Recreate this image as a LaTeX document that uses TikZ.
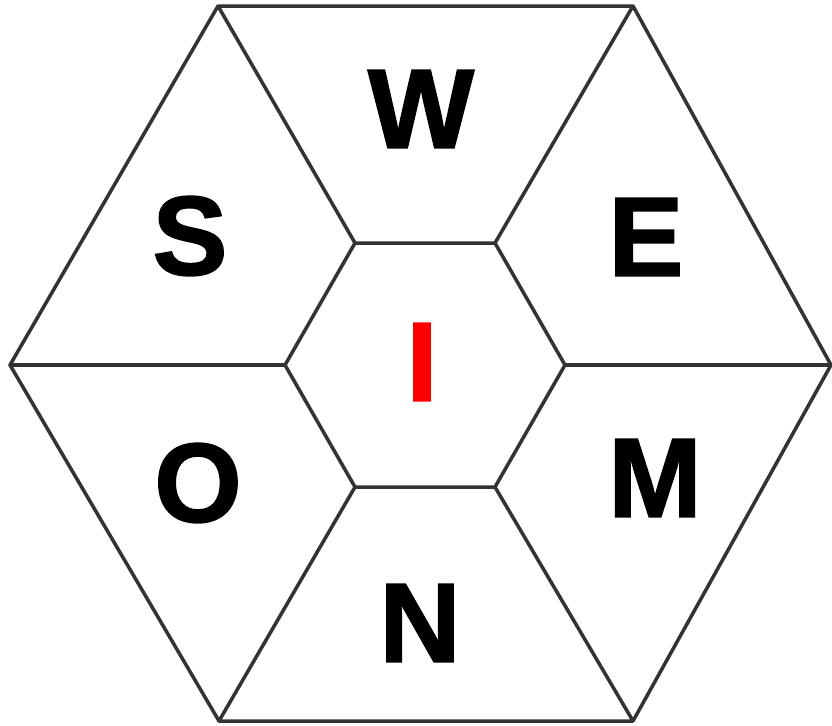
\documentclass[tikz,border=0pt]{standalone}
\usepackage{fontspec}
\setmainfont{Liberation Sans}[BoldFeatures={FakeBold=1.5}]
\usepackage{xcolor}
\usetikzlibrary{positioning,calc}
\definecolor{edgegray}{HTML}{333333}
\definecolor{hubred}{HTML}{FF0000}
\tikzset{
  cell/.style={draw=edgegray, line width=2pt, line join=round},
  letter/.style={font=\fontsize{64}{64}\selectfont\bfseries, inner sep=0pt, text=black},
}

\begin{document}
\begin{tikzpicture}[x=0.02cm, y=-0.02cm]
  % page frame, same size as the reference
  \useasboundingbox (0,0) rectangle (832,725);
  % outer corners
  \coordinate (o1) at (831,365);
  \coordinate (o2) at (633,6);
  \coordinate (o3) at (218,6);
  \coordinate (o4) at (10,365);
  \coordinate (o5) at (219,721);
  \coordinate (o6) at (633,721);
  % inner corners
  \coordinate (i1) at (565,365);
  \coordinate (i2) at (495,243);
  \coordinate (i3) at (355,243);
  \coordinate (i4) at (285,365);
  \coordinate (i5) at (355,487);
  \coordinate (i6) at (495,487);
  % outer and inner hexagon
  \draw[cell] (o1) -- (o2) -- (o3) -- (o4) -- (o5) -- (o6) -- cycle;
  \draw[cell] (i1) -- (i2) -- (i3) -- (i4) -- (i5) -- (i6) -- cycle;
  % spokes from inner to outer corners
  \foreach \k in {1,...,6}
    \draw[cell] (i\k) -- (o\k);
  % letters
  \node[letter] (w) at (421,109) {W};
  \node[letter] (e) at (646,237) {E};
  \node[letter] (m) at (655,478) {M};
  \node[letter] (n) at (420,623) {N};
  \node[letter] (o) at (198,483) {O};
  \node[letter] (s) at (190,236) {S};
  \node[letter, text=hubred] (i) at (422,362) {I};
\end{tikzpicture}
\end{document}
